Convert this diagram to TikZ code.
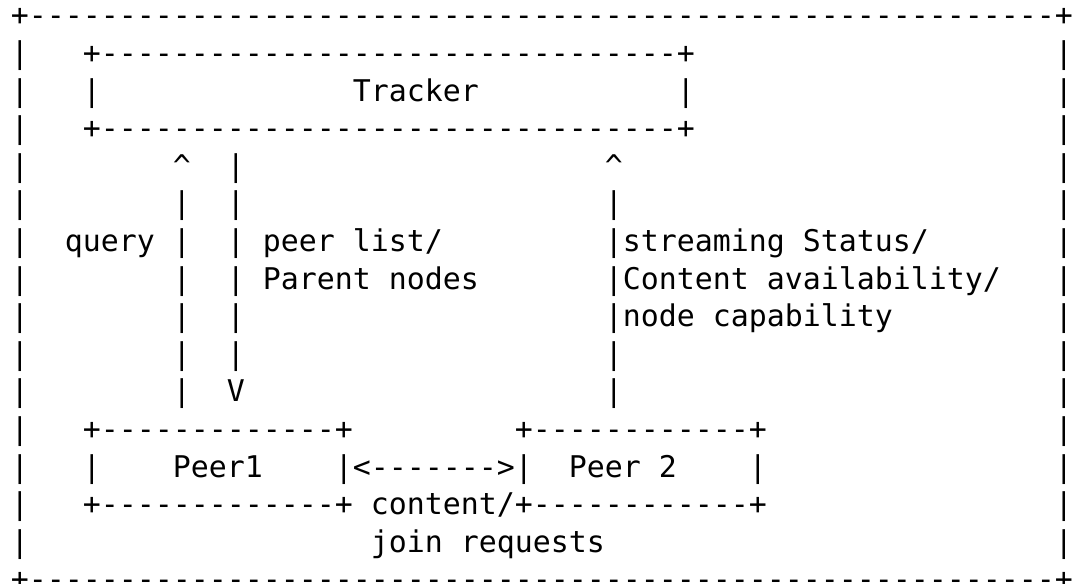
\documentclass[tikz,border=0pt]{standalone}
\usepackage{fontspec}
\setmonofont{DejaVu Sans Mono}
\begin{document}
\begin{tikzpicture}[x=9pt, y=-18.8pt,
    car/.style={anchor=base west, inner sep=0pt, outer sep=0pt,
        font=\ttfamily\fontsize{14.95pt}{18.8pt}\selectfont}]
    % Margini
    \useasboundingbox (-0.611,-0.691) rectangle (59.06,14.84);
    % Cornice esterna
    \node[car] (corniceSu) at (0,0) {+---------------------------------------------------------+};
    \node[car] (corniceGiu) at (0,15) {+---------------------------------------------------------+};
    \foreach \r in {1,...,14}{
        \node[car] (sx\r) at (0,\r) {|};
        \node[car] (dx\r) at (58,\r) {|};
    }
    % Tracker
    \node[car] (trackerSu) at (4,1) {+--------------------------------+};
    \node[car] (trackerSx) at (4,2) {|};
    \node[car] (tracker) at (19,2) {Tracker};
    \node[car] (trackerDx) at (37,2) {|};
    \node[car] (trackerGiu) at (4,3) {+--------------------------------+};
    % Frecce verticali
    \node[car] (queryPunta) at (9,4) {\textasciicircum};
    \foreach \r in {5,...,10} \node[car] (query\r) at (9,\r) {|};
    \foreach \r in {4,...,9} \node[car] (lista\r) at (12,\r) {|};
    \node[car] (listaPunta) at (12,10) {V};
    \node[car] (statoPunta) at (33,4) {\textasciicircum};
    \foreach \r in {5,9,10} \node[car] (stato\r) at (33,\r) {|};
    % Etichette
    \node[car] (query) at (3,6) {query};
    \node[car] (peerList) at (14,6) {peer list/};
    \node[car] (parent) at (14,7) {Parent nodes};
    \node[car] (status) at (33,6) {|streaming Status/};
    \node[car] (availability) at (33,7) {|Content availability/};
    \node[car] (capability) at (33,8) {|node capability};
    % Peer
    \node[car] (peerUnoSu) at (4,11) {+-------------+};
    \node[car] (peerUnoSx) at (4,12) {|};
    \node[car] (peerUno) at (9,12) {Peer1};
    \node[car] (peerUnoGiu) at (4,13) {+-------------+};
    \node[car] (scambio) at (18,12) {|<------->|};
    \node[car] (peerDueSu) at (28,11) {+------------+};
    \node[car] (peerDue) at (31,12) {Peer 2};
    \node[car] (peerDueDx) at (41,12) {|};
    \node[car] (peerDueGiu) at (28,13) {+------------+};
    \node[car] (contenuto) at (20,13) {content/};
    \node[car] (join) at (20,14) {join requests};
\end{tikzpicture}
\end{document}
